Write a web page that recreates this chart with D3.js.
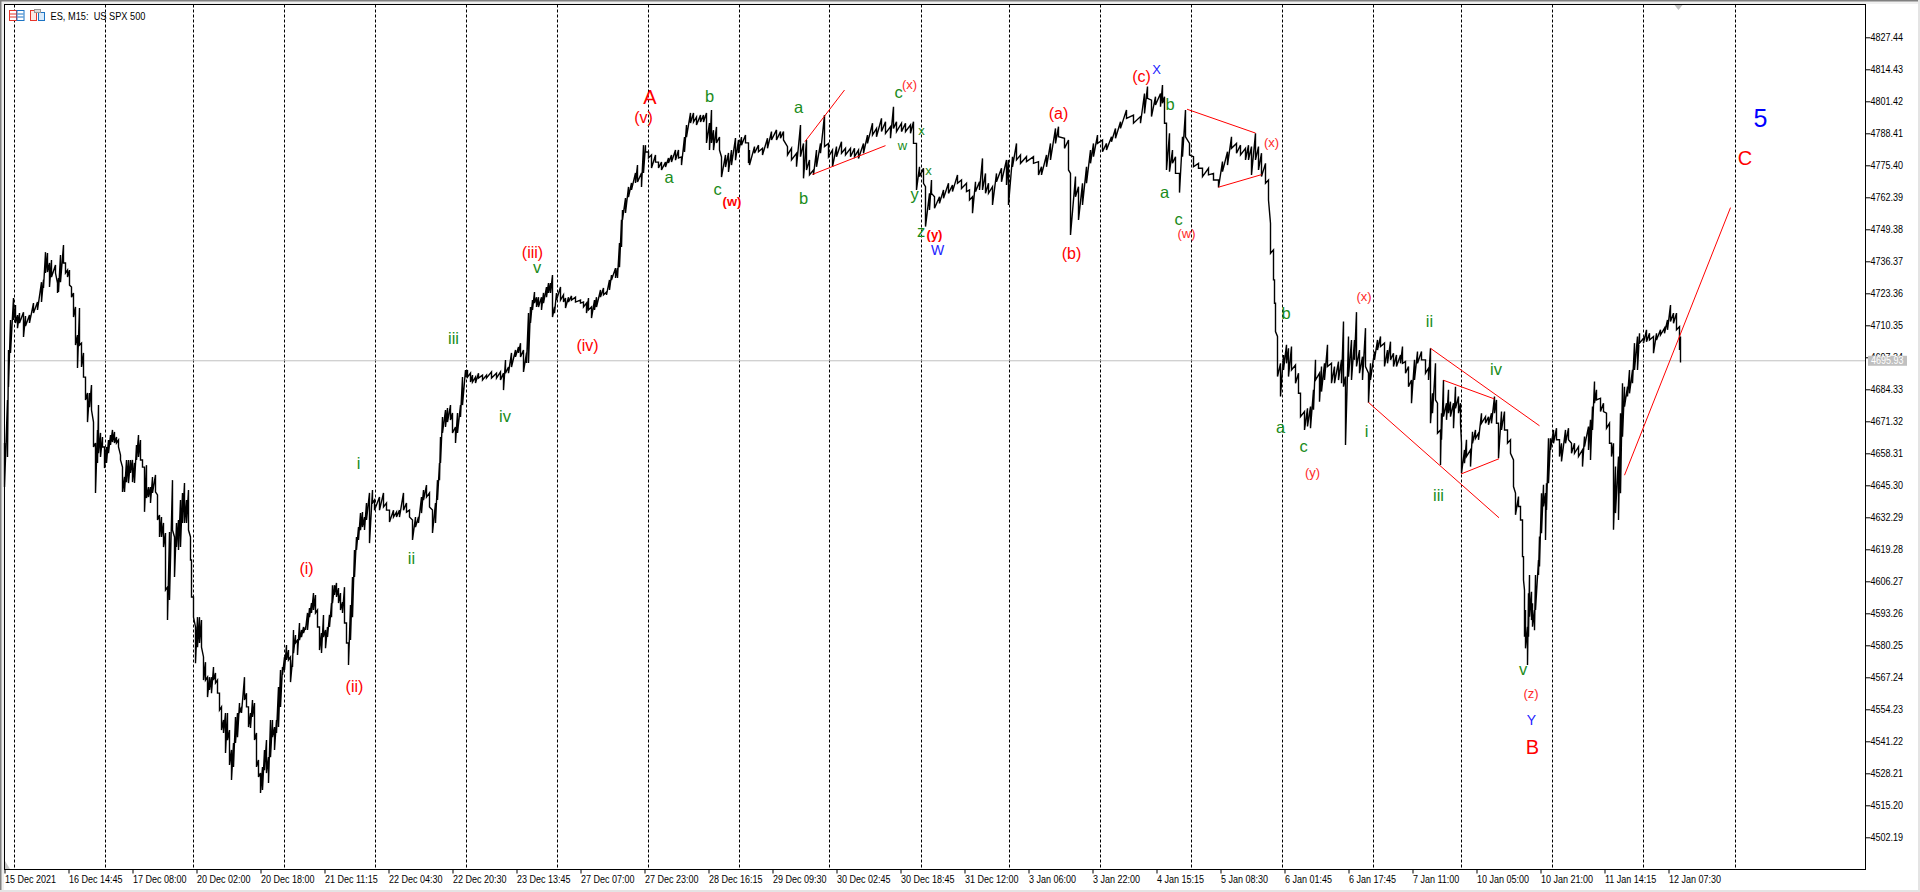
<!DOCTYPE html>
<html><head><meta charset="utf-8">
<script src="https://d3js.org/d3.v7.min.js"></script>
<style>html,body{margin:0;padding:0;background:#fff;overflow:hidden}svg{display:block}</style>
</head><body><svg id="c" width="1920" height="892"></svg>
<script>
const timeLabels=["15 Dec 2021","16 Dec 14:45","17 Dec 08:00","20 Dec 02:00","20 Dec 18:00","21 Dec 11:15","22 Dec 04:30","22 Dec 20:30","23 Dec 13:45","27 Dec 07:00","27 Dec 23:00","28 Dec 16:15","29 Dec 09:30","30 Dec 02:45","30 Dec 18:45","31 Dec 12:00","3 Jan 06:00","3 Jan 22:00","4 Jan 15:15","5 Jan 08:30","6 Jan 01:45","6 Jan 17:45","7 Jan 11:00","10 Jan 05:00","10 Jan 21:00","11 Jan 14:15","12 Jan 07:30"];
const timeTickBars=[0,64,128,192,256,320,384,448,512,576,640,704,768,832,896,960,1024,1088,1152,1216,1280,1344,1408,1472,1536,1600,1664];
const periodBars=[9,100,188,279,370,461,552,643,734,825,916,1004,1095,1186,1277,1368,1456,1547,1638,1730];
const priceTicks=[4827.44,4814.43,4801.42,4788.41,4775.40,4762.39,4749.38,4736.37,4723.36,4710.35,4697.34,4684.33,4671.32,4658.31,4645.30,4632.29,4619.28,4606.27,4593.26,4580.25,4567.24,4554.23,4541.22,4528.21,4515.20,4502.19];
const lastPrice=4695.93;
const symbolTitle="ES, M15:  US SPX 500";

const bars=[
0,3,4,6,9,11,13,15,19,21,25,29,33,37,39,41,43,45,47,51,53,54,56,59,61,63,65,67,69,71,
73,75,77,79,81,83,85,87,89,91,93,94,96,98,100,102,104,106,108,110,112,114,116,118,120,122,124,126,128,130,
132,134,136,138,140,142,144,146,148,151,153,155,157,159,161,163,165,168,170,172,174,176,178,180,182,184,186,187,189,191,
193,195,197,199,201,203,205,207,209,211,213,215,217,219,221,223,225,227,229,231,233,235,237,240,242,244,246,248,250,252,
254,256,258,260,262,264,266,268,270,272,274,276,278,280,282,284,286,288,289,291,293,295,297,299,301,303,305,307,309,311,
313,315,317,319,321,323,325,327,328,330,332,334,336,338,340,342,344,346,348,350,352,354,356,358,360,362,365,368,370,375,
379,382,385,389,392,395,399,402,405,408,411,414,417,419,422,425,428,431,433,435,436,438,441,443,446,448,451,453,456,458,
461,463,466,468,471,474,478,482,487,492,496,499,501,504,507,511,514,516,519,522,524,526,528,530,532,534,537,539,542,544,
546,548,550,552,556,559,561,564,567,571,576,579,582,584,587,590,592,596,599,602,605,607,611,613,615,617,618,621,624,627,
631,633,637,639,641,644,647,651,654,657,661,664,667,671,674,677,680,682,686,689,692,696,699,702,705,707,709,712,715,717,
721,724,727,731,734,737,741,744,745,750,754,758,763,767,772,776,779,783,787,792,796,799,802,805,809,812,816,820,824,828,
832,837,841,846,850,854,859,863,868,872,877,881,886,889,892,897,901,906,909,912,915,919,921,925,927,930,935,939,944,948,
953,957,962,965,968,971,975,978,981,984,988,992,997,1002,1004,1008,1012,1016,1022,1029,1034,1037,1042,1046,1051,1054,1060,1064,1066,1071,
1074,1078,1082,1086,1089,1093,1098,1102,1107,1111,1116,1122,1129,1136,1140,1143,1147,1151,1156,1158,1160,1162,1165,1168,1171,1175,1178,1181,1185,1189,
1194,1198,1204,1209,1214,1218,1223,1227,1232,1236,1241,1244,1247,1251,1254,1257,1261,1264,1266,1269,1270,1271,1273,1276,1279,1282,1284,1287,1291,1294,
1296,1300,1303,1306,1309,1311,1315,1317,1320,1323,1327,1330,1334,1337,1339,1341,1344,1347,1350,1352,1355,1358,1361,1364,1366,1370,1373,1376,1380,1383,
1386,1389,1392,1396,1398,1401,1404,1407,1410,1413,1417,1421,1424,1426,1428,1431,1433,1436,1437,1439,1442,1444,1446,1449,1451,1454,1456,1457,1460,1462,
1466,1468,1471,1474,1477,1481,1484,1487,1490,1492,1494,1497,1500,1503,1506,1509,1511,1514,1516,1518,1519,1520,1521,1523,1524,1525,1527,1528,1530,1531,
1534,1535,1537,1539,1541,1542,1544,1546,1549,1552,1555,1557,1561,1564,1567,1570,1574,1578,1580,1584,1586,1588,1590,1592,1596,1599,1602,1605,1607,1609,
1611,1614,1616,1618,1620,1623,1625,1628,1630,1633,1635,1639,1642,1645,1649,1652,1656,1660,1663,1666,1669,1672,1675,1676
];
const highs=[
4662.5,4680.0,4700.3,4712.5,4721.4,4718.6,4714.5,4715.3,4715.7,4714.1,4714.5,4719.4,4719.8,4727.9,4728.8,4740.1,4739.7,4735.7,4736.9,4734.9,4727.5,4729.6,4738.9,4743.0,4735.7,4732.8,4732.8,4725.9,4723.5,4717.8,
4706.4,4717.4,4703.1,4699.1,4689.3,4682.8,4682.8,4686.1,4671.0,4662.5,4667.8,4677.9,4666.6,4664.9,4660.9,4660.9,4663.7,4665.7,4667.8,4667.0,4664.9,4663.7,4657.6,4652.7,4648.7,4655.6,4655.6,4655.6,4655.6,4654.4,
4661.7,4665.7,4663.7,4655.6,4652.7,4653.5,4644.6,4644.6,4648.7,4649.5,4641.4,4633.2,4632.4,4630.0,4625.9,4603.9,4626.3,4647.4,4624.3,4630.0,4631.2,4639.3,4642.2,4646.2,4639.3,4643.4,4624.3,4614.9,4599.9,4587.7,
4591.7,4591.7,4590.5,4575.5,4573.4,4567.3,4567.3,4567.3,4571.4,4569.0,4566.1,4560.8,4555.2,4549.9,4552.7,4552.7,4545.8,4537.7,4540.5,4551.1,4552.7,4556.8,4555.2,4567.3,4560.8,4555.2,4552.7,4558.0,4556.8,4544.6,
4533.6,4528.3,4530.8,4537.7,4541.7,4534.8,4549.9,4549.9,4547.0,4549.9,4563.3,4570.2,4571.4,4575.5,4580.4,4578.3,4575.5,4574.3,4586.5,4584.4,4582.4,4589.3,4586.5,4587.7,4587.7,4593.4,4595.4,4597.4,4601.5,4600.7,
4594.6,4587.7,4585.2,4592.6,4586.5,4587.7,4592.6,4597.4,4604.7,4604.7,4605.6,4603.5,4601.5,4597.8,4603.9,4589.3,4581.2,4596.6,4608.0,4619.0,4624.3,4628.3,4634.0,4634.4,4632.4,4638.1,4642.2,4643.4,4639.3,4640.5,
4642.2,4638.1,4635.2,4635.2,4634.4,4635.2,4642.2,4638.1,4635.2,4631.2,4632.4,4632.4,4640.5,4643.4,4645.4,4642.2,4635.2,4638.1,4647.4,4654.4,4664.9,4673.1,4675.9,4676.7,4677.9,4674.7,4669.0,4674.7,4677.9,4689.3,
4692.2,4692.2,4690.9,4690.1,4689.3,4690.9,4690.1,4690.1,4691.4,4690.9,4691.4,4690.9,4696.2,4693.4,4699.1,4700.3,4701.5,4703.1,4700.3,4699.1,4715.3,4717.8,4720.6,4723.9,4721.8,4721.8,4721.8,4723.5,4725.9,4727.5,
4727.5,4730.8,4717.8,4723.5,4725.9,4722.7,4721.4,4721.8,4722.3,4721.8,4720.6,4719.8,4719.4,4721.4,4717.8,4720.6,4721.8,4724.7,4725.5,4723.9,4728.8,4730.8,4733.6,4733.6,4743.8,4753.2,4757.2,4762.1,4766.6,4768.2,
4772.3,4775.5,4772.3,4783.6,4783.6,4780.8,4779.6,4779.6,4776.7,4776.7,4776.7,4778.4,4779.6,4781.6,4781.6,4778.8,4786.9,4791.8,4796.7,4796.7,4795.0,4795.8,4795.8,4796.7,4792.6,4797.9,4789.7,4791.0,4786.9,4778.8,
4779.6,4780.4,4781.6,4786.5,4785.7,4786.9,4787.7,4784.5,4781.6,4783.0,4783.6,4782.3,4786.4,4789.1,4789.8,4789.1,4789.1,4783.0,4782.3,4780.3,4791.8,4784.3,4785.7,4777.6,4773.5,4781.6,4784.3,4795.8,4784.3,4781.6,
4783.0,4785.0,4782.3,4782.3,4782.3,4781.6,4784.3,4787.7,4792.5,4790.4,4794.5,4793.1,4791.1,4799.2,4793.1,4792.5,4792.5,4791.8,4793.1,4784.3,4774.8,4774.2,4766.7,4764.0,4769.4,4762.6,4762.6,4765.4,4768.1,4767.4,
4771.5,4769.4,4768.1,4765.4,4762.6,4768.7,4768.7,4778.2,4772.1,4768.1,4766.7,4772.1,4774.2,4777.6,4777.6,4778.9,4784.3,4779.6,4778.9,4778.9,4776.9,4774.8,4779.6,4784.3,4790.4,4791.1,4786.4,4785.7,4772.1,4770.8,
4766.7,4768.1,4774.8,4781.6,4784.3,4787.7,4785.7,4784.3,4787.0,4790.4,4793.1,4797.9,4795.8,4795.2,4804.6,4807.4,4801.9,4803.3,4804.6,4808.0,4803.3,4792.5,4788.4,4781.6,4778.9,4772.1,4787.0,4797.9,4784.3,4778.9,
4776.2,4774.2,4774.2,4772.1,4769.4,4776.9,4780.9,4787.0,4784.3,4783.6,4782.3,4783.6,4783.0,4788.4,4783.0,4780.3,4776.2,4769.4,4751.8,4741.0,4728.8,4719.3,4705.8,4694.9,4698.3,4702.4,4701.0,4701.7,4694.2,4690.9,
4682.7,4675.3,4676.6,4677.3,4684.1,4696.3,4690.9,4693.6,4694.9,4702.4,4694.9,4693.6,4695.6,4696.3,4711.9,4689.5,4705.8,4704.4,4704.4,4715.7,4700.3,4697.6,4709.2,4690.9,4694.9,4699.7,4704.4,4705.8,4703.1,4700.3,
4703.7,4699.0,4698.3,4698.3,4701.7,4695.6,4693.6,4688.1,4696.3,4699.7,4699.7,4696.3,4692.9,4701.0,4682.7,4694.9,4678.7,4667.8,4674.6,4688.1,4678.7,4684.1,4679.3,4678.7,4685.4,4681.4,4678.7,4662.4,4659.7,4663.8,
4659.7,4667.1,4667.8,4666.5,4674.6,4673.2,4673.2,4674.6,4681.4,4680.0,4670.5,4675.3,4675.3,4667.8,4663.8,4655.6,4642.1,4640.7,4636.7,4631.2,4616.3,4602.7,4594.6,4587.8,4601.4,4608.8,4602.0,4597.3,4594.6,4608.8,
4614.9,4624.5,4642.1,4645.5,4642.1,4646.1,4664.4,4664.4,4667.8,4668.5,4663.8,4662.4,4667.8,4668.5,4662.4,4662.4,4661.0,4659.7,4665.1,4669.2,4671.9,4677.3,4687.5,4684.1,4680.7,4678.7,4674.6,4670.5,4662.4,4662.4,
4652.9,4657.0,4674.6,4686.8,4685.4,4685.4,4692.2,4692.2,4703.1,4705.8,4707.1,4705.1,4708.5,4707.1,4705.8,4707.1,4708.5,4709.2,4712.5,4718.6,4715.3,4715.3,4709.8,4705.8
];
const lows=[
4644.6,4656.8,4685.3,4699.1,4712.5,4711.3,4709.2,4711.3,4705.6,4710.1,4711.3,4715.3,4716.6,4719.8,4725.5,4731.6,4732.0,4725.9,4730.0,4731.6,4723.5,4723.9,4727.9,4735.7,4731.6,4730.0,4726.7,4721.8,4713.7,4702.3,
4693.0,4702.3,4693.4,4689.3,4680.0,4671.0,4677.1,4675.9,4660.9,4642.2,4654.4,4658.4,4656.8,4660.9,4652.3,4654.4,4658.4,4661.7,4662.9,4662.5,4662.5,4660.9,4655.6,4642.6,4642.6,4646.6,4646.2,4650.3,4646.6,4646.2,
4655.6,4656.8,4655.6,4652.7,4634.5,4640.1,4640.5,4638.1,4642.2,4642.6,4631.2,4624.3,4624.3,4620.2,4602.7,4590.5,4598.7,4627.1,4608.0,4620.2,4619.0,4620.2,4630.0,4630.0,4630.0,4627.1,4614.9,4599.9,4591.7,4573.0,
4579.5,4581.2,4579.5,4566.1,4566.1,4559.2,4562.1,4560.8,4566.1,4564.9,4560.8,4553.9,4545.8,4544.6,4536.5,4541.7,4531.6,4525.5,4530.8,4540.5,4542.9,4552.7,4552.7,4558.0,4555.2,4547.0,4546.6,4551.1,4541.7,4530.8,
4526.7,4520.2,4521.4,4529.5,4528.3,4524.3,4534.8,4542.9,4537.7,4544.6,4547.0,4555.2,4568.2,4570.2,4574.3,4574.3,4565.3,4571.4,4577.1,4581.2,4576.3,4582.4,4583.6,4585.2,4586.5,4586.5,4591.7,4593.4,4594.6,4593.4,
4587.7,4578.3,4577.1,4583.6,4579.1,4583.6,4587.7,4591.7,4597.4,4600.7,4599.9,4597.4,4594.6,4593.4,4589.3,4581.2,4572.2,4582.4,4591.7,4608.0,4619.0,4623.1,4627.1,4628.3,4627.1,4631.2,4621.8,4638.1,4635.2,4635.2,
4636.5,4635.2,4630.4,4632.4,4632.4,4632.4,4635.2,4634.4,4632.4,4623.1,4628.3,4630.0,4634.0,4639.3,4640.5,4636.5,4625.9,4630.0,4639.3,4647.4,4654.4,4666.6,4669.0,4671.0,4671.8,4666.6,4662.5,4666.6,4673.1,4677.9,
4689.3,4689.3,4687.3,4687.3,4686.9,4688.9,4688.1,4688.9,4688.9,4688.9,4688.1,4684.0,4690.9,4690.9,4693.4,4697.5,4699.1,4697.5,4691.4,4695.0,4695.0,4711.3,4716.6,4719.4,4717.8,4717.8,4716.6,4719.4,4721.8,4723.5,
4723.5,4713.7,4715.3,4720.6,4720.6,4719.8,4717.4,4719.8,4720.6,4719.8,4719.4,4717.8,4715.3,4716.6,4713.3,4716.6,4717.8,4721.8,4722.7,4722.7,4724.7,4728.8,4729.6,4729.6,4734.0,4742.2,4753.2,4756.0,4762.5,4765.4,
4768.2,4768.6,4766.6,4772.3,4780.8,4778.4,4774.3,4776.7,4774.3,4773.5,4774.7,4776.3,4776.7,4777.5,4778.4,4775.5,4780.8,4786.9,4792.6,4793.0,4791.8,4793.0,4793.0,4784.5,4781.6,4784.5,4781.6,4784.5,4781.6,4770.6,
4774.7,4772.7,4775.5,4777.5,4780.4,4783.6,4784.5,4776.3,4775.5,4780.3,4780.9,4779.6,4782.3,4785.7,4785.7,4786.4,4785.7,4779.6,4777.6,4774.8,4778.9,4770.1,4773.5,4771.5,4771.5,4774.8,4780.3,4783.0,4778.9,4774.8,
4778.9,4780.3,4779.6,4778.9,4778.9,4778.2,4780.3,4784.3,4787.7,4787.0,4789.1,4788.4,4786.4,4790.4,4789.1,4789.1,4789.1,4788.4,4784.3,4765.4,4770.8,4768.1,4750.5,4757.2,4764.0,4757.9,4759.9,4762.0,4764.0,4764.7,
4768.1,4766.0,4764.7,4761.3,4755.9,4764.7,4765.4,4765.4,4764.0,4764.0,4759.3,4768.7,4768.7,4767.4,4759.3,4774.8,4777.6,4776.2,4776.9,4776.2,4771.5,4771.5,4774.8,4777.6,4784.3,4787.0,4782.3,4773.5,4747.1,4762.6,
4753.2,4759.3,4768.1,4776.2,4778.9,4784.3,4780.9,4781.6,4785.0,4786.4,4790.4,4794.5,4792.5,4792.5,4796.5,4802.6,4795.2,4799.9,4799.2,4800.6,4792.5,4773.5,4772.8,4776.2,4772.1,4764.3,4778.9,4787.0,4779.6,4774.8,
4774.2,4770.8,4771.5,4769.4,4766.4,4772.8,4775.5,4782.3,4780.3,4779.6,4777.6,4777.6,4771.5,4777.6,4773.5,4770.8,4768.1,4761.3,4739.6,4728.8,4719.3,4707.8,4689.5,4681.4,4692.2,4694.9,4689.5,4692.2,4686.8,4682.7,
4673.2,4667.8,4669.2,4668.5,4676.0,4688.1,4679.3,4683.4,4688.1,4693.6,4686.8,4686.8,4688.1,4686.8,4685.4,4661.7,4689.5,4688.1,4696.3,4693.6,4690.9,4688.1,4693.6,4678.9,4688.1,4696.3,4700.3,4701.7,4693.6,4694.9,
4696.3,4693.6,4693.6,4694.9,4694.9,4690.9,4685.4,4678.7,4688.1,4694.9,4696.3,4690.9,4688.1,4670.5,4674.6,4680.0,4666.5,4653.6,4663.8,4673.2,4671.9,4674.6,4673.2,4668.5,4676.6,4674.6,4670.5,4650.2,4654.3,4657.0,
4652.9,4662.4,4664.4,4663.8,4670.5,4670.5,4669.9,4670.5,4674.6,4670.5,4656.3,4667.8,4667.8,4662.4,4658.3,4644.8,4633.3,4636.7,4631.2,4616.3,4606.8,4583.7,4579.0,4572.2,4583.7,4591.9,4590.5,4587.8,4586.4,4594.6,
4608.8,4612.3,4625.8,4636.7,4623.1,4635.3,4646.1,4659.7,4662.4,4663.8,4657.0,4655.0,4662.4,4663.8,4658.3,4658.3,4657.0,4652.9,4661.0,4659.7,4655.6,4667.8,4678.7,4680.0,4675.3,4675.3,4668.5,4662.4,4657.0,4627.2,
4634.0,4631.2,4642.1,4665.1,4677.3,4681.4,4682.7,4686.8,4692.2,4692.2,4703.1,4703.1,4703.7,4704.4,4699.0,4704.4,4706.4,4707.1,4708.5,4711.9,4711.2,4708.5,4700.3,4695.2
];

const trendBarA=[800.4,808,1182.5,1214,1364,1426,1439,1456.5,1620];
const trendPriceA=[4785.0,4771.7,4798.2,4766.5,4679.0,4701.0,4688.0,4649.9,4649.4];
const trendBarB=[840,881,1251,1257,1494.5,1535,1490,1494.5,1726];
const trendPriceB=[4806.0,4783.4,4788.5,4771.6,4632.1,4669.5,4680.4,4656.1,4758.2];

const labelText=["A","(v)","b","a","c","(w)","(iii)","v","iii","(iv)","iv","i","ii","(i)","(ii)","a","b","c","(x)","w","x","x","y","z","(y)","W","(a)","(b)","(c)","X","b","a","c","(w)","(x)","b","a","c","(y)","(x)","i","ii","iii","iv","v","(z)","Y","B","5","C"];
const labelBar=[645.5,639,705,664.5,713,727.5,528,532.5,449,583,500.5,354,407,302,350,794,799,894,905,898,917,924,910,916.5,930,933,1054,1067,1137,1152,1165.5,1160,1174,1182,1267,1281.5,1276,1299,1308,1359.5,1362,1425,1434,1491.5,1518.5,1526.5,1527,1528,1756,1740.5];
const labelPrice=[4803.2,4795.0,4803.7,4770.6,4765.8,4760.5,4739.9,4734.0,4705.3,4702.1,4673.6,4654.2,4615.6,4611.3,4563.4,4799.0,4762.0,4805.1,4808.4,4783.6,4789.5,4773.2,4763.7,4748.7,4747.1,4741.1,4796.5,4739.6,4811.4,4814.4,4800.3,4764.4,4753.4,4747.8,4784.7,4715.2,4669.1,4661.3,4650.6,4722.0,4667.5,4712.2,4641.4,4692.5,4570.5,4560.7,4549.9,4538.8,4794.5,4778.2];
const labelKind=["M","R","G","G","G","B","R","G","G","R","G","G","G","R","R","G","G","G","r","s","s","s","G","G","B","W","R","R","R","w","G","G","G","r","r","G","G","G","r","r","G","G","G","G","G","r","W","M","V","M"];

const styles={
 M:{fill:"#ff0000",size:20,weight:400},
 R:{fill:"#ff0000",size:16,weight:400},
 r:{fill:"#ff2a2a",size:13,weight:400},
 B:{fill:"#ff0000",size:13,weight:700},
 G:{fill:"#1a8c1a",size:16.5,weight:400},
 s:{fill:"#1a8c1a",size:13,weight:400},
 W:{fill:"#2222ff",size:14,weight:400},
 w:{fill:"#2222ff",size:13,weight:400},
 V:{fill:"#0000ff",size:25,weight:400}
};
const axisFont='"Liberation Sans",Arial,sans-serif';

const L=4.5,R=1865.5,T=4.5,B=869.5;
const x=d3.scaleLinear().domain([0,1861]).range([L,R]);
const y=d3.scaleLinear().domain([4827.44,4502.19]).range([37.3,837.3]);
const svg=d3.select("#c");
const squeeze=(sel,f)=>sel.each(function(){const n=this.getComputedTextLength();d3.select(this).attr("textLength",n*f).attr("lengthAdjust","spacingAndGlyphs");});

// window frame
svg.append("rect").attr("width",1920).attr("height",892).attr("fill","#fff");
svg.append("rect").attr("width",1920).attr("height",4).attr("fill","#f0f0f0");
svg.append("rect").attr("width",4).attr("height",892).attr("fill","#f0f0f0");
svg.append("rect").attr("width",1920).attr("height",1.5).attr("fill","#808080");
svg.append("rect").attr("width",1.5).attr("height",892).attr("fill","#808080");
svg.append("rect").attr("x",1918).attr("width",2).attr("height",892).attr("fill","#e4e4e4");
svg.append("rect").attr("y",890).attr("width",1920).attr("height",2).attr("fill","#e4e4e4");

// period separators
svg.append("g").selectAll("line").data(periodBars).join("line")
 .attr("x1",d=>Math.round(x(d))+.5).attr("x2",d=>Math.round(x(d))+.5).attr("y1",T).attr("y2",B)
 .attr("stroke","#000").attr("stroke-width",1).attr("stroke-dasharray","3 2");

// last price line
svg.append("line").attr("x1",L).attr("x2",R).attr("y1",y(lastPrice)).attr("y2",y(lastPrice)).attr("stroke","#c0c0c0").attr("stroke-width",1);

// price bars
const path=d3.path();
bars.forEach((b,i)=>{
 const px=x(b);
 if(i===0) path.moveTo(px,y(highs[i])); else path.lineTo(px,y(highs[i]));
 path.lineTo(px,y(lows[i]));
});
svg.append("path").attr("d",path.toString()).attr("fill","none").attr("stroke","#000").attr("stroke-width",1.4).attr("stroke-linejoin","miter");

// trend lines
svg.append("g").selectAll("line").data(trendBarA).join("line")
 .attr("x1",d=>x(d)).attr("y1",(d,i)=>y(trendPriceA[i]))
 .attr("x2",(d,i)=>x(trendBarB[i])).attr("y2",(d,i)=>y(trendPriceB[i]))
 .attr("stroke","#ff0000").attr("stroke-width",1);

// wave labels
svg.append("g").selectAll("text").data(labelText).join("text")
 .attr("x",(d,i)=>x(labelBar[i])).attr("y",(d,i)=>y(labelPrice[i]))
 .attr("text-anchor","middle").attr("dominant-baseline","central")
 .attr("font-family",'"Liberation Sans",Arial,sans-serif')
 .attr("font-size",(d,i)=>styles[labelKind[i]].size)
 .attr("font-weight",(d,i)=>styles[labelKind[i]].weight)
 .attr("fill",(d,i)=>styles[labelKind[i]].fill)
 .text(d=>d);

// plot border and axes
svg.append("rect").attr("x",L).attr("y",T).attr("width",R-L).attr("height",B-T).attr("fill","none").attr("stroke","#000");

const ax=svg.append("g").attr("transform",`translate(0,${B})`)
 .call(d3.axisBottom(x).tickValues(timeTickBars).tickFormat((d,i)=>timeLabels[i]).tickSize(4).tickPadding(2));
ax.select(".domain").remove();
ax.selectAll("text").attr("text-anchor","start").attr("font-family",axisFont).attr("font-size",10).attr("fill","#000").call(squeeze,0.9);

const ay=svg.append("g").attr("transform",`translate(${R},0)`)
 .call(d3.axisRight(y).tickValues(priceTicks).tickFormat(d=>d.toFixed(2)).tickSize(5).tickPadding(0));
ay.select(".domain").remove();
ay.selectAll("text").attr("font-family",axisFont).attr("font-size",10).attr("fill","#000").call(squeeze,0.9);

// last price tag
const ly=y(lastPrice);
svg.append("rect").attr("x",1868).attr("y",ly-5).attr("width",39).attr("height",10).attr("fill","#c0c0c0");
svg.append("text").attr("x",1871).attr("y",ly).attr("dominant-baseline","central").attr("font-family",axisFont).attr("font-size",10).attr("fill","#fff").text(lastPrice.toFixed(2)).call(squeeze,0.9);

// chart-shift markers
svg.append("path").attr("d",d3.line()([[x(1670),5],[x(1678),5],[x(1674),10]])+"Z").attr("fill","#c0c0c0");
svg.append("path").attr("d",d3.line()([[5,861],[5,869],[10,869]])+"Z").attr("fill","#c8c8c8");

// title icons
const ic=svg.append("g");
[[9,"#e8352b"],[16.5,"#1c74c4"]].forEach(([ix,c])=>{
 ic.append("rect").attr("x",ix+.5).attr("y",10.5).attr("width",7).attr("height",10).attr("fill","#fff").attr("stroke",c);
 [13.5,16.5].forEach(v=>ic.append("line").attr("x1",ix+1).attr("x2",ix+7).attr("y1",v+.5).attr("y2",v+.5).attr("stroke",c));
});
ic.append("rect").attr("x",30.5).attr("y",10.5).attr("width",6).attr("height",10).attr("fill","#fbe8e4").attr("stroke","#e8352b");
ic.append("rect").attr("x",38.5).attr("y",12.5).attr("width",6).attr("height",8).attr("fill","#d8eafa").attr("stroke","#1c74c4");
ic.append("rect").attr("x",34.5).attr("y",9.5).attr("width",6).attr("height",3).attr("fill","#ddd").attr("stroke","#999");
svg.append("text").attr("x",50.5).attr("y",15.5).attr("dominant-baseline","central").attr("font-family",axisFont).attr("font-size",11).attr("fill","#000").style("white-space","pre").text(symbolTitle).attr("textLength",95).attr("lengthAdjust","spacingAndGlyphs");
</script></body></html>
